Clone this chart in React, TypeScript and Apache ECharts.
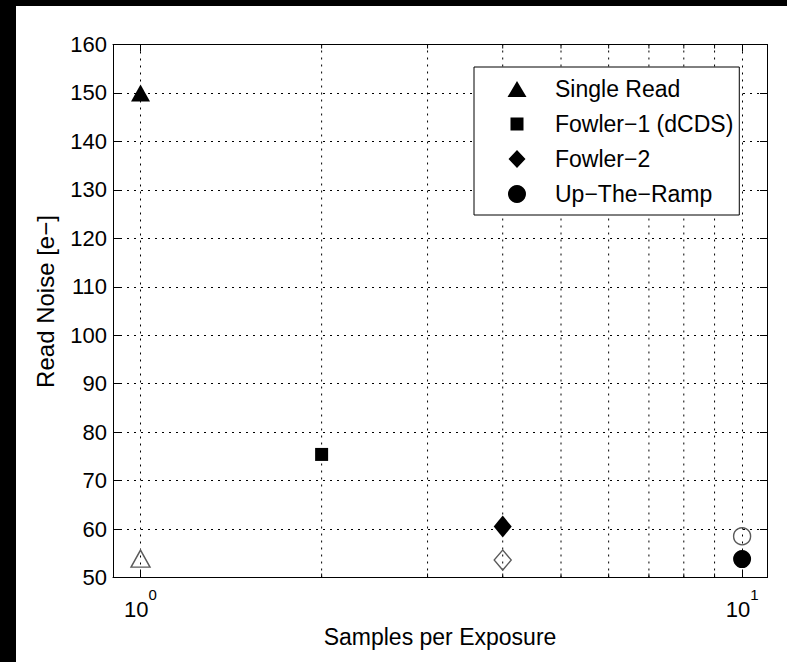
import React, { useEffect, useRef } from 'react';
import * as echarts from 'echarts';

// ---- data ----
const xRange = [0.9, 11];
const xMajorTicks = [1, 10];
const xMajorExponents = ['0', '1'];
const xMinorTicks = [2, 3, 4, 5, 6, 7, 8, 9];
const yRange = [50, 160];
const yStep = 10;

const seriesNames = ['Single Read', 'Fowler\u22121 (dCDS)', 'Fowler\u22122', 'Up\u2212The\u2212Ramp'];
const samples = [1, 2, 4, 10];
const readNoise = [150, 75.4, 60.5, 53.8];

const openNames = ['Single Read (open)', 'Fowler\u22122 (open)', 'Up\u2212The\u2212Ramp (open)'];
const openSamples = [1, 4, 10];
const openNoise = [53.9, 53.6, 58.5];

const xTitle = 'Samples per Exposure';
const yTitle = 'Read Noise [e\u2212]';

export default function App() {
  const ref = useRef<HTMLDivElement>(null);

  useEffect(() => {
    const chart = echarts.init(ref.current!, null, { renderer: 'svg' });
    const font = "'Liberation Sans', Arial, Helvetica, sans-serif";
    const dotted = { color: '#000', width: 1, type: [2, 5] as number[] };

    const filledSymbols = ['triangle', 'rect', 'diamond', 'circle'];
    const filledSizes: any[] = [[19, 17], [13, 13], [18, 22], [18, 18]];
    const openSymbols = ['triangle', 'diamond', 'circle'];
    const openSizes: any[] = [[19, 17], [17, 20], [17, 17]];
    // legend icons: invisible corner points fix the 21x20 box, the visible shape sits inside it
    const box = 'M0,0L0.01,0ZM21,20L20.99,20Z';
    const legendIcons = [
      'path://' + box + 'M10.5,2L20,18L1,18Z',
      'path://' + box + 'M4,3.5h13v13h-13z',
      'path://' + box + 'M10.5,1L19,10L10.5,19L2,10Z',
      'path://' + box + 'M10.5,1A9,9,0,1,1,10.49,1Z',
    ];

    const filledSeries = seriesNames.map((name, i) => ({
      type: 'scatter',
      name,
      data: [[samples[i], readNoise[i]]],
      symbol: filledSymbols[i],
      symbolSize: filledSizes[i],
      itemStyle: { color: '#000', opacity: 1 },
      z: 5,
      silent: true,
    }));

    const openSeries = openNames.map((name, i) => ({
      type: 'scatter',
      name,
      data: [[openSamples[i], openNoise[i]]],
      symbol: openSymbols[i],
      symbolSize: openSizes[i],
      itemStyle: { color: 'transparent', borderColor: '#5a5a5a', borderWidth: 1.4, opacity: 1 },
      z: 5,
      silent: true,
    }));

    const minorGrid = {
      type: 'custom',
      name: 'minor',
      silent: true,
      z: 1,
      data: xMinorTicks.map((v) => [v, yRange[0]]),
      encode: { x: 0, y: 1 },
      renderItem: (_params: any, api: any) => {
        const v = api.value(0);
        const pb = api.coord([v, yRange[0]]);
        const pt = api.coord([v, yRange[1]]);
        return {
          type: 'group',
          children: [
            {
              type: 'line',
              shape: { x1: pb[0], y1: pb[1], x2: pt[0], y2: pt[1] },
              style: { stroke: '#000', lineWidth: 1, lineDash: [2, 5] },
            },
            {
              type: 'line',
              shape: { x1: pb[0], y1: pb[1], x2: pb[0], y2: pb[1] - 4 },
              style: { stroke: '#000', lineWidth: 1 },
            },
            {
              type: 'line',
              shape: { x1: pt[0], y1: pt[1], x2: pt[0], y2: pt[1] + 4 },
              style: { stroke: '#000', lineWidth: 1 },
            },
          ],
        };
      },
    };

    const xLabelFormatter = (v: number) => {
      const i = xMajorTicks.findIndex((t) => Math.abs(t - v) < 1e-9);
      return i >= 0 ? `{b|10}{s|${xMajorExponents[i]}}` : '';
    };

    const option: any = {
      animation: false,
      backgroundColor: '#fff',
      textStyle: { fontFamily: font },
      grid: {
        left: 97,
        top: 38.5,
        width: 654,
        height: 533,
        containLabel: false,
        outerBoundsMode: 'none',
      },
      legend: {
        show: true,
        orient: 'vertical',
        left: 458,
        top: 61,
        padding: [9, 6, 8, 32.5],
        itemWidth: 21,
        itemHeight: 20,
        itemGap: 9,
        symbolKeepAspect: false,
        backgroundColor: '#fff',
        borderColor: '#000',
        borderWidth: 1,
        borderRadius: 0,
        selectedMode: false,
        textStyle: {
          fontSize: 23,
          lineHeight: 26,
          color: '#000',
          fontFamily: font,
          padding: [0, 0, 0, 22.5],
        },
        data: seriesNames.map((name, i) => ({ name, icon: legendIcons[i] })),
      },
      xAxis: [
        {
          type: 'log',
          logBase: 10,
          min: xRange[0],
          max: xRange[1],
          position: 'bottom',
          name: xTitle,
          nameLocation: 'middle',
          nameGap: 41,
          nameTextStyle: { fontSize: 23, color: '#000', fontFamily: font },
          axisLine: { show: true, onZero: false, lineStyle: { color: '#000', width: 1 } },
          axisTick: { show: true, inside: true, length: 7, lineStyle: { color: '#000' } },
          minorTick: { show: false },
          splitLine: { show: true, lineStyle: dotted },
          axisLabel: {
            show: true,
            margin: 9,
            formatter: xLabelFormatter,
            showMinLabel: true,
            showMaxLabel: true,
            rich: {
              b: { fontSize: 22, lineHeight: 34, verticalAlign: 'bottom', color: '#000', fontFamily: font },
              s: { fontSize: 15, lineHeight: 15, verticalAlign: 'top', color: '#000', fontFamily: font },
            },
          },
        },
        {
          type: 'log',
          logBase: 10,
          min: xRange[0],
          max: xRange[1],
          position: 'top',
          axisLine: { show: true, onZero: false, lineStyle: { color: '#000', width: 1 } },
          axisTick: { show: true, inside: true, length: 7, lineStyle: { color: '#000' } },
          axisLabel: { show: false },
          splitLine: { show: false },
        },
      ],
      yAxis: [
        {
          type: 'value',
          min: yRange[0],
          max: yRange[1],
          interval: yStep,
          position: 'left',
          name: yTitle,
          nameLocation: 'middle',
          nameGap: 56,
          nameTextStyle: { fontSize: 24, color: '#000', fontFamily: font, padding: [0, 0, 0, 19] },
          axisLine: { show: true, onZero: false, lineStyle: { color: '#000', width: 1 } },
          axisTick: { show: true, inside: true, length: 7, lineStyle: { color: '#000' } },
          splitLine: { show: true, lineStyle: dotted },
          axisLabel: { show: true, margin: 6, fontSize: 22, color: '#000', fontFamily: font },
        },
        {
          type: 'value',
          min: yRange[0],
          max: yRange[1],
          interval: yStep,
          position: 'right',
          axisLine: { show: true, onZero: false, lineStyle: { color: '#000', width: 1 } },
          axisTick: { show: true, inside: true, length: 7, lineStyle: { color: '#000' } },
          splitLine: { show: false },
          axisLabel: { show: false },
        },
      ],
      series: [minorGrid, ...filledSeries, ...openSeries],
    };

    chart.setOption(option);
    return () => chart.dispose();
  }, []);

  return (
    <div style={{ position: 'fixed', left: 0, top: 0, width: 787, height: 662, background: '#000' }}>
      <div
        ref={ref}
        style={{ position: 'absolute', left: 16, top: 6, width: 771, height: 656, background: '#fff' }}
      />
    </div>
  );
}
